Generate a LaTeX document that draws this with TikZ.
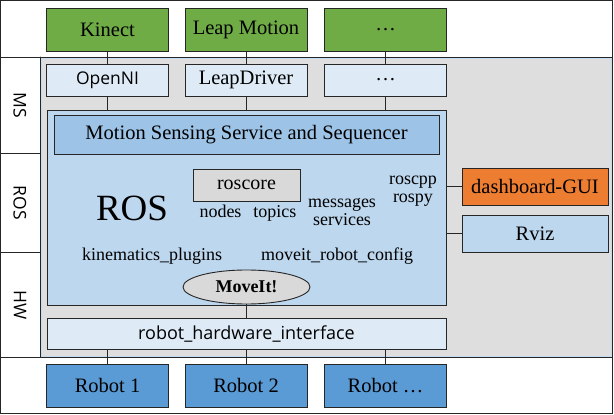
\documentclass[tikz,border=0pt]{standalone}
\usepackage{fontspec}
\setmainfont{Liberation Serif}
\setsansfont{Open Sans}
\usetikzlibrary{shapes.geometric}
\definecolor{verde}{HTML}{6FAC46}
\definecolor{celeste}{HTML}{DEEBF7}
\definecolor{azulclaro}{HTML}{BDD7EE}
\definecolor{azulmed}{HTML}{9DC3E6}
\definecolor{azulrobot}{HTML}{5B9BD5}
\definecolor{naranja}{HTML}{ED7D31}
\definecolor{grisfondo}{HTML}{DEDEDE}
\definecolor{grisnodo}{HTML}{D9D9D9}
\definecolor{borde}{HTML}{262626}

\begin{document}
\begin{tikzpicture}[x=1pt,y=-1pt,line cap=round,
    caja/.style={draw=borde,line width=0.9pt,inner sep=0pt,
                 font=\fontsize{20.5}{22}\selectfont},
    chico/.style={inner sep=0pt,align=center,font=\fontsize{18}{18.5}\selectfont},
    capa/.style={inner sep=0pt,rotate=-90,font=\sffamily\fontsize{17.5}{18}\selectfont},
    enlace/.style={draw=borde,line width=0.9pt}]
        \useasboundingbox (0,0) rectangle (614,415);
        % marco y capas
        \fill[grisfondo] (41,57) rectangle (611,357);
        \draw[azulmed!60,line width=0.6pt] (41,58) rectangle (611,356);
        \draw[borde,line width=0.8pt] (0.5,0.5) rectangle (612,413);
        \draw[borde,line width=0.8pt] (0.5,57) -- (612,57);
        \draw[borde,line width=0.8pt] (0.5,357) -- (612,357);
        \draw[borde,line width=0.8pt] (40,57) -- (40,357);
        \draw[borde,line width=0.8pt] (0.5,153) -- (40,153);
        \draw[borde,line width=0.8pt] (0.5,252) -- (40,252);
        \node[capa] (lms) at (20,105) {MS};
        \node[capa] (lros) at (20,203) {ROS};
        \node[capa] (lhw) at (20,305) {HW};
        % ROS
        \node[caja,fill=azulclaro,minimum width=399pt,minimum height=195pt] (ros) at (246.5,207.5) {};
        \node[caja,fill=azulmed,minimum width=385pt,minimum height=39pt] (mss) at (246.5,134.5)
              {Motion Sensing Service and Sequencer};
        \node[caja,fill=grisnodo,minimum width=107pt,minimum height=32pt,
              font=\fontsize{20}{20}\selectfont] (core) at (246.5,185) {roscore};
        \node[inner sep=0pt,font=\fontsize{37}{40}\selectfont] (rostxt) at (132,208) {ROS};
        \node[chico] (nodos) at (248,213) {nodes\hspace{12pt}topics};
        \node[chico] (msgs) at (342,212) {messages\\services};
        \node[chico] (libs) at (413,191) {roscpp\\rospy};
        \node[chico] (kin) at (152,256) {kinematics\_plugins};
        \node[chico] (cfg) at (337,256) {moveit\_robot\_config};
        \node[caja,ellipse,fill=grisnodo,minimum width=127pt,minimum height=34pt,
              font=\bfseries\fontsize{18}{18}\selectfont] (moveit) at (246.5,287) {MoveIt!};
        % herramientas
        \node[caja,fill=naranja,minimum width=146pt,minimum height=37pt] (dash) at (535,186.5) {dashboard-GUI};
        \node[caja,fill=azulclaro,minimum width=146pt,minimum height=37pt] (rviz) at (535,233.5) {Rviz};
        \draw[enlace] (dash.west) -- (dash.west -| ros.east);
        \draw[enlace] (rviz.west) -- (rviz.west -| ros.east);
        % hardware
        \node[caja,fill=celeste,minimum width=399pt,minimum height=31pt,
              font=\sffamily\fontsize{18}{18}\selectfont] (rhi) at (246.5,333.5) {robot\_hardware\_interface};
        \draw[enlace] (moveit) -- (rhi);
        \foreach \i/\x/\sens/\drv/\rob in {1/107.5/Kinect/{\sffamily\fontsize{17.5}{18}\selectfont OpenNI}/Robot 1,
                                           2/246/Leap Motion/LeapDriver/Robot 2,
                                           3/385.5/\dots/\dots/Robot \dots}{
          \node[caja,fill=verde,minimum width=122pt,minimum height=43pt] (s\i) at (\x,29.5) {\sens};
          \node[caja,fill=celeste,minimum width=122pt,minimum height=32pt] (d\i) at (\x,80) {\drv};
          \node[caja,fill=azulrobot,minimum width=122pt,minimum height=43pt] (r\i) at (\x,385.5) {\rob};
          \draw[enlace] (s\i) -- (d\i);
          \draw[enlace] (d\i) -- (d\i |- ros.north);
          \draw[enlace] (r\i) -- (r\i |- rhi.south);
        }
      \end{tikzpicture}
\end{document}
